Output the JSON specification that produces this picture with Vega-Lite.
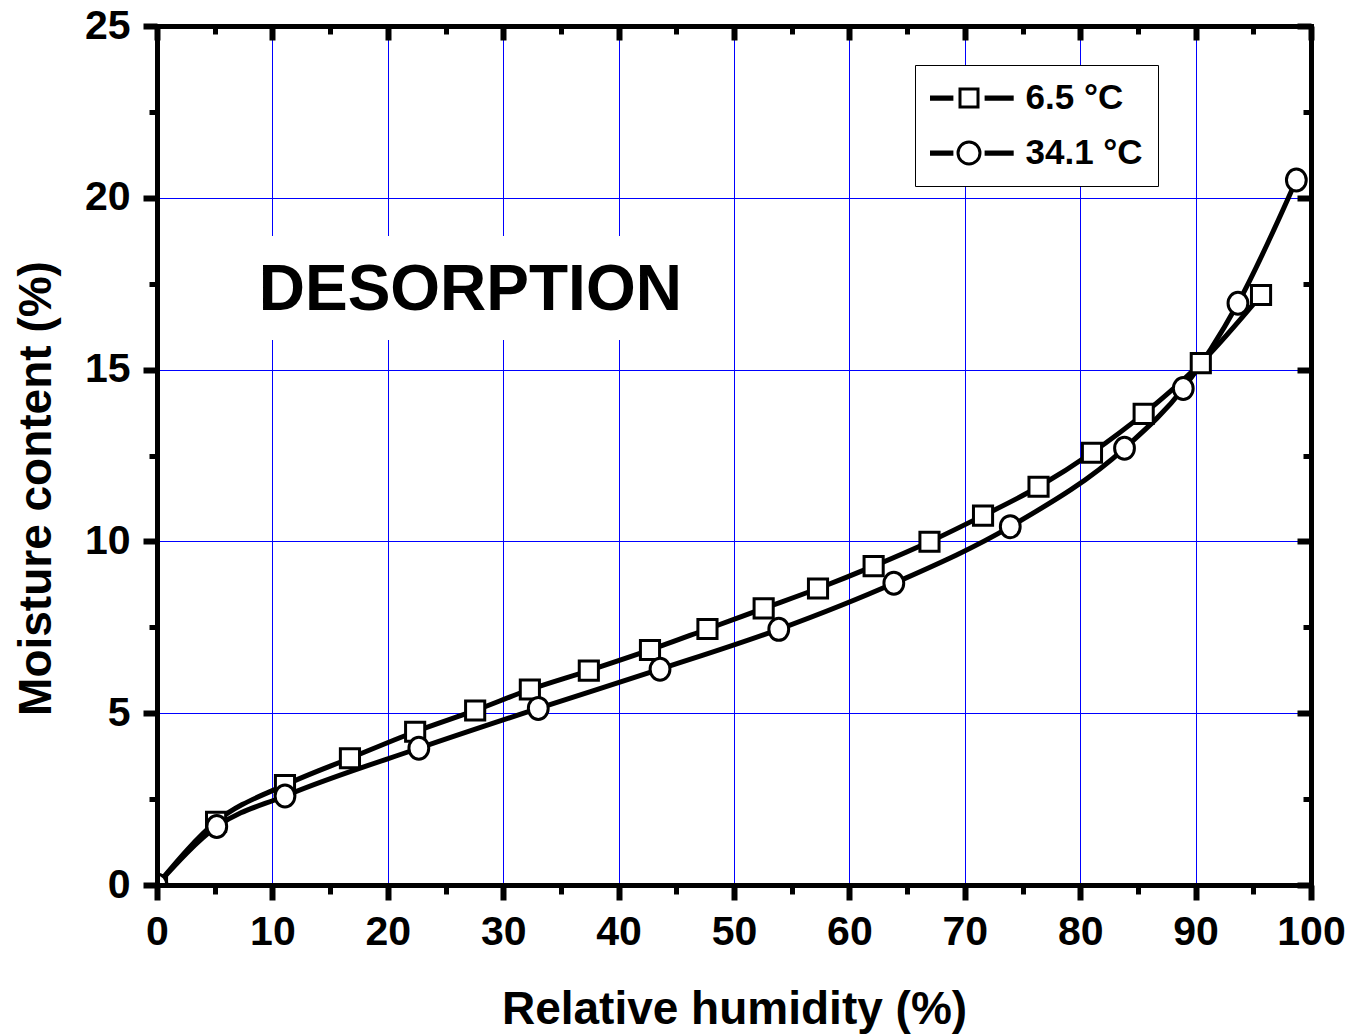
{
  "$schema": "https://vega.github.io/schema/vega-lite/v6.json",
  "width": 1154,
  "height": 859,
  "autosize": {"type": "none"},
  "padding": {"left": 157, "top": 26, "right": 46, "bottom": 150},
  "background": "white",
  "config": {
    "view": {"stroke": null},
    "font": "Liberation Sans",
    "axis": {
      "labelFont": "Liberation Sans", "labelFontWeight": "bold", "labelFontSize": 41, "labelColor": "black",
      "titleFont": "Liberation Sans", "titleFontWeight": "bold", "titleFontSize": 45, "titleColor": "black",
      "tickColor": "black", "domainColor": "black", "labelFlush": false, "labelOverlap": false, "labelBound": false,
      "gridColor": "#0000ff", "gridOpacity": 1, "gridWidth": 1, "domainCap": "square", "tickCap": "butt"
    }
  },
  "data": {
    "values": [
      {"series": "6.5 °C", "rh": 0, "mc": 0},
      {"series": "6.5 °C", "rh": 5.12, "mc": 1.84},
      {"series": "6.5 °C", "rh": 11.09, "mc": 2.91},
      {"series": "6.5 °C", "rh": 16.72, "mc": 3.69},
      {"series": "6.5 °C", "rh": 22.37, "mc": 4.46},
      {"series": "6.5 °C", "rh": 27.57, "mc": 5.08},
      {"series": "6.5 °C", "rh": 32.31, "mc": 5.69},
      {"series": "6.5 °C", "rh": 37.42, "mc": 6.24},
      {"series": "6.5 °C", "rh": 42.72, "mc": 6.84},
      {"series": "6.5 °C", "rh": 47.7, "mc": 7.45},
      {"series": "6.5 °C", "rh": 52.57, "mc": 8.05},
      {"series": "6.5 °C", "rh": 57.28, "mc": 8.63},
      {"series": "6.5 °C", "rh": 62.1, "mc": 9.28},
      {"series": "6.5 °C", "rh": 66.94, "mc": 9.99},
      {"series": "6.5 °C", "rh": 71.58, "mc": 10.75},
      {"series": "6.5 °C", "rh": 76.39, "mc": 11.59},
      {"series": "6.5 °C", "rh": 81.02, "mc": 12.58},
      {"series": "6.5 °C", "rh": 85.5, "mc": 13.71},
      {"series": "6.5 °C", "rh": 90.45, "mc": 15.19},
      {"series": "6.5 °C", "rh": 95.67, "mc": 17.17},
      {"series": "34.1 °C", "rh": 0, "mc": 0},
      {"series": "34.1 °C", "rh": 5.18, "mc": 1.7},
      {"series": "34.1 °C", "rh": 11.09, "mc": 2.59},
      {"series": "34.1 °C", "rh": 22.69, "mc": 3.98},
      {"series": "34.1 °C", "rh": 33.04, "mc": 5.14},
      {"series": "34.1 °C", "rh": 43.59, "mc": 6.28},
      {"series": "34.1 °C", "rh": 53.88, "mc": 7.44},
      {"series": "34.1 °C", "rh": 63.85, "mc": 8.78},
      {"series": "34.1 °C", "rh": 73.94, "mc": 10.43},
      {"series": "34.1 °C", "rh": 83.84, "mc": 12.71},
      {"series": "34.1 °C", "rh": 88.93, "mc": 14.45},
      {"series": "34.1 °C", "rh": 93.67, "mc": 16.93},
      {"series": "34.1 °C", "rh": 98.73, "mc": 20.52}
    ]
  },
  "layer": [
    {
      "data": {"values": [{"label": "DESORPTION"}]},
      "mark": {"type": "rect", "fill": "white"},
      "encoding": {
        "x": {"datum": 8.8, "type": "quantitative", "scale": {"domain": [0, 100], "nice": false, "zero": false},
          "axis": {"orient": "bottom", "values": [0, 10, 20, 30, 40, 50, 60, 70, 80, 90, 100], "grid": true, "domain": false,
            "tickSize": 15, "tickWidth": 6, "labelPadding": 12, "title": "Relative humidity (%)",
            "titleY": 138, "titleBaseline": "alphabetic", "titleFontSize": 46, "zindex": 0}},
        "x2": {"datum": 45},
        "y": {"datum": 15.86, "type": "quantitative", "scale": {"domain": [0, 25], "nice": false, "zero": false},
          "axis": {"orient": "left", "values": [0, 5, 10, 15, 20, 25], "grid": true, "domain": false,
            "tickSize": 14, "tickWidth": 6, "labelPadding": 13, "title": "Moisture content (%)",
            "titleX": -107, "titleY": 462, "titleAngle": -90, "titleAlign": "center", "titleBaseline": "alphabetic", "titleFontSize": 46, "zindex": 0}},
        "y2": {"datum": 18.89}
      }
    },
    {
      "mark": {"type": "line", "color": "black", "strokeWidth": 5, "interpolate": "monotone", "clip": true},
      "encoding": {
        "x": {"field": "rh", "type": "quantitative",
          "axis": {"orient": "bottom", "values": [5, 15, 25, 35, 45, 55, 65, 75, 85, 95], "grid": false, "domain": true, "domainWidth": 5,
            "tickSize": 9, "tickWidth": 5, "labels": false, "title": null, "zindex": 1}},
        "y": {"field": "mc", "type": "quantitative",
          "axis": {"orient": "left", "values": [2.5, 7.5, 12.5, 17.5, 22.5], "grid": false, "domain": true, "domainWidth": 5,
            "tickSize": 8, "tickWidth": 5, "labels": false, "title": null, "zindex": 1}},
        "detail": {"field": "series"}
      }
    },
    {
      "mark": {"type": "point", "filled": true, "fill": "white", "stroke": "black", "strokeWidth": 3, "size": 484, "opacity": 1, "clip": true},
      "encoding": {
        "x": {"field": "rh", "type": "quantitative",
          "axis": {"orient": "top", "values": [0, 10, 20, 30, 40, 50, 60, 70, 80, 90, 100], "grid": false, "domain": true, "domainWidth": 5,
            "tickSize": -14, "tickWidth": 6, "labels": false, "title": null, "zindex": 1}},
        "y": {"field": "mc", "type": "quantitative",
          "axis": {"orient": "right", "values": [0, 5, 10, 15, 20, 25], "grid": false, "domain": true, "domainWidth": 5,
            "tickSize": -14, "tickWidth": 6, "labels": false, "title": null, "zindex": 1}},
        "shape": {"field": "series", "type": "nominal",
          "scale": {"domain": ["6.5 °C", "34.1 °C"], "range": ["M-0.87,-0.87H0.87V0.87H-0.87Z", "M-0.9,0A0.9,1 0 1,0 0.9,0A0.9,1 0 1,0 -0.9,0Z"]},
          "legend": null}
      }
    },
    {
      "data": {"values": [{"label": "DESORPTION"}]},
      "mark": {"type": "text", "font": "Liberation Sans", "fontWeight": "bold", "fontSize": 64, "color": "black", "align": "center", "baseline": "alphabetic"},
      "encoding": {
        "x": {"datum": 27.15, "type": "quantitative",
          "axis": {"orient": "top", "values": [5, 15, 25, 35, 45, 55, 65, 75, 85, 95], "grid": false, "domain": false,
            "tickSize": -8, "tickWidth": 5, "labels": false, "title": null, "zindex": 1}},
        "y": {"datum": 16.73, "type": "quantitative",
          "axis": {"orient": "right", "values": [2.5, 7.5, 12.5, 17.5, 22.5], "grid": false, "domain": false,
            "tickSize": -8, "tickWidth": 5, "labels": false, "title": null, "zindex": 1}},
        "text": {"field": "label"}
      }
    },
    {
      "mark": {"type": "point", "opacity": 0},
      "encoding": {
        "x": {"field": "rh", "type": "quantitative", "axis": null},
        "y": {"field": "mc", "type": "quantitative", "axis": null},
        "shape": {"field": "series", "type": "nominal",
          "scale": {"domain": ["6.5 °C", "34.1 °C"],
            "range": ["M-0.96,-0.025H-0.38V0.025H-0.96Z M-0.2,-0.2H0.2V0.2H-0.2Z M0.38,-0.025H0.96V0.025H0.38Z",
                      "M-0.96,-0.025H-0.38V0.025H-0.96Z M-0.244,0A0.244,0.244 0 1,0 0.244,0A0.244,0.244 0 1,0 -0.244,0Z M0.38,-0.025H0.96V0.025H0.38Z"]},
          "legend": {"title": null, "orient": "none", "legendX": 758, "legendY": 39,
            "strokeColor": "black", "fillColor": "white", "padding": 15,
            "symbolSize": 8100, "symbolStrokeWidth": 3, "symbolStrokeColor": "black", "symbolFillColor": "white", "symbolOpacity": 1,
            "clipHeight": 36, "symbolOffset": -7.5,
            "labelFont": "Liberation Sans", "labelFontWeight": "bold", "labelFontSize": 35, "labelColor": "black",
            "labelOffset": 10, "rowPadding": 19,
            "encode": {"legend": {"update": {"strokeWidth": {"value": 2}}}}}}
      }
    }
  ],
  "resolve": {"scale": {"shape": "independent"}, "axis": {"x": "independent", "y": "independent"}}
}
